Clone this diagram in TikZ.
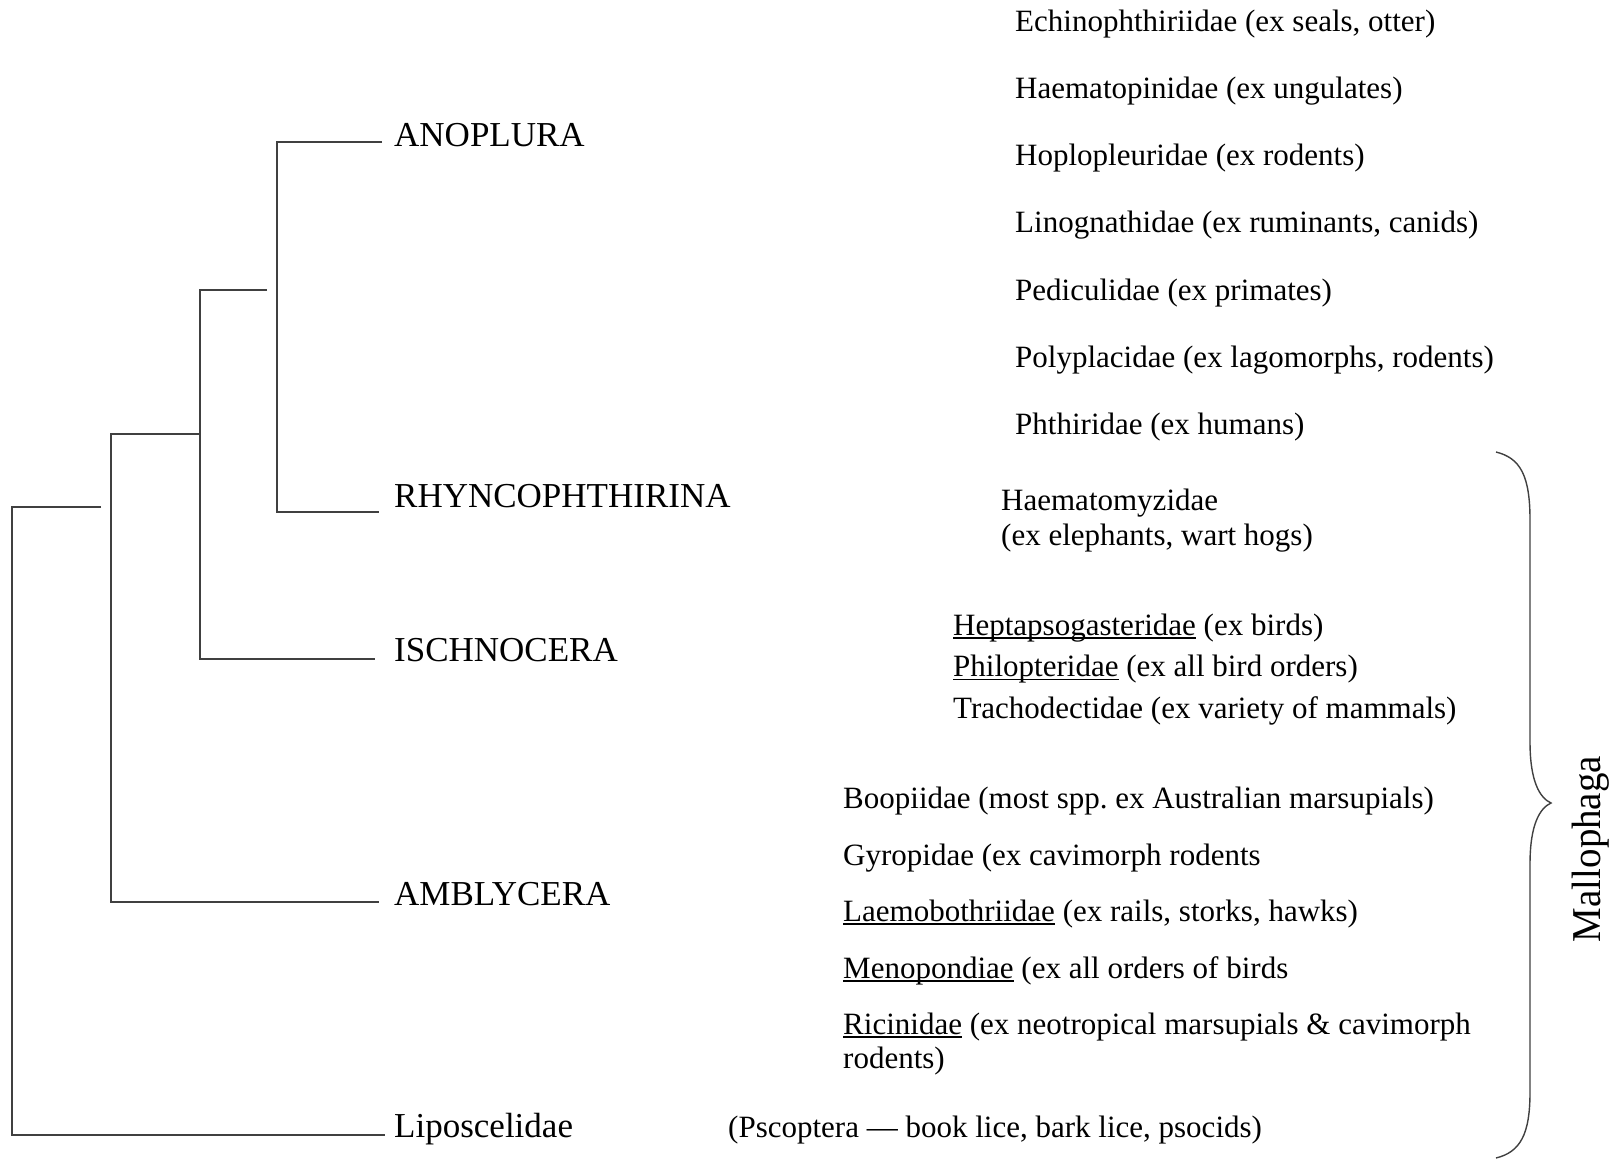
\documentclass[tikz,border=0pt]{standalone}
\usepackage{fontspec}
\setmainfont{Liberation Serif}
\frenchspacing
\newcommand\ulx[1]{\setbox0\hbox{#1}\rlap{\rule[-3.5pt]{\wd0}{1.4pt}}\box0\relax}
\tikzset{
  branch/.style={line width=1.4pt, draw=black!75},
  taxon/.style={anchor=base west, inner sep=0pt, font=\fontsize{35}{40}\selectfont},
  fam/.style={anchor=base west, inner sep=0pt, font=\fontsize{31}{35}\selectfont},
  bracepath/.style={line width=1.4pt, draw=black!75},
}
\begin{document}
\begin{tikzpicture}[x=1pt,y=-1pt]
\useasboundingbox (0,0) rectangle (1621,1160);

% ---- taxon labels
\node[taxon] (anop) at (394,146) {ANOPLURA};
\node[taxon] (rhyn) at (394,507) {RHYNCOPHTHIRINA};
\node[taxon] (isch) at (394,661) {ISCHNOCERA};
\node[taxon] (ambl) at (394,905) {AMBLYCERA};
\node[taxon] (lipo) at (394,1137) {Liposcelidae};

% ---- branch tips and junctions
\coordinate (tA) at (382,142);
\coordinate (tR) at (379,512);
\coordinate (tI) at (375,659);
\coordinate (tM) at (379,902);
\coordinate (tL) at (385,1135);
\coordinate (j1) at (277,300);
\coordinate (s1) at (267,290);
\coordinate (j2) at (200,400);
\coordinate (s2) at (200,434);
\coordinate (j3) at (111,600);
\coordinate (s3) at (101,507);
\coordinate (j4) at (12,800);

\draw[branch] (tA) -- (tA -| j1) -- (tR -| j1) -- (tR);
\draw[branch] (s1) -- (s1 -| j2) -- (tI -| j2) -- (tI);
\draw[branch] (s2) -- (s2 -| j3) -- (tM -| j3) -- (tM);
\draw[branch] (s3) -- (s3 -| j4) -- (tL -| j4) -- (tL);

% ---- Anoplura families
\node[fam] (f1) at (1015,31) {Echinophthiriidae (ex seals, otter)};
\node[fam] (f2) at (1015,98) {Haematopinidae (ex ungulates)};
\node[fam] (f3) at (1015,165.5) {Hoplopleuridae (ex rodents)};
\node[fam] (f4) at (1015,232.5) {Linognathidae (ex ruminants, canids)};
\node[fam] (f5) at (1015,300) {Pediculidae (ex primates)};
\node[fam] (f6) at (1015,367) {Polyplacidae (ex lagomorphs, rodents)};
\node[fam] (f7) at (1015,434) {Phthiridae (ex humans)};

% ---- Rhyncophthirina
\node[fam] (h1) at (1001,510.5) {Haematomyzidae};
\node[fam] (h2) at (1001,545) {(ex elephants, wart hogs)};

% ---- Ischnocera
\node[fam] (i1) at (953,635) {\ulx{Heptapsogasteridae} (ex birds)};
\node[fam] (i2) at (953,676.5) {\ulx{Philopteridae} (ex all bird orders)};
\node[fam] (i3) at (953,718) {Trachodectidae (ex variety of mammals)};

% ---- Amblycera
\node[fam] (a1) at (843,808) {Boopiidae (most spp.\ ex Australian marsupials)};
\node[fam] (a2) at (843,865) {Gyropidae (ex cavimorph rodents};
\node[fam] (a3) at (843,921) {\ulx{Laemobothriidae} (ex rails, storks, hawks)};
\node[fam] (a4) at (843,978) {\ulx{Menopondiae} (ex all orders of birds};
\node[fam] (a5) at (843,1034) {\ulx{Ricinidae} (ex neotropical marsupials \& cavimorph};
\node[fam] (a6) at (843,1068) {rodents)};

% ---- Liposcelidae note
\node[fam] (p1) at (728,1137) {(Pscoptera — book lice, bark lice, psocids)};

% ---- brace and Mallophaga
\draw[bracepath] (1496,452) .. controls (1520,458) and (1530,475) .. (1530,520)
  -- (1530,742) .. controls (1530,782) and (1540,798) .. (1551,803)
  .. controls (1540,808) and (1530,824) .. (1530,864)
  -- (1530,1092) .. controls (1530,1135) and (1520,1152) .. (1496,1158);
\node[rotate=90, inner sep=0pt, font=\fontsize{41}{44}\selectfont] (mall) at (1591,849) {\scalebox{0.95}[1]{Mallophaga}};
\end{tikzpicture}
\end{document}
